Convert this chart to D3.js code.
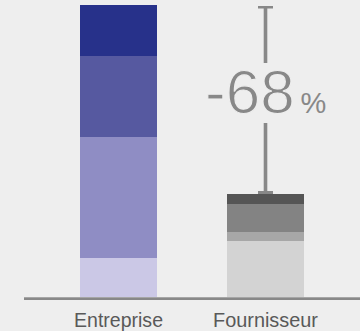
<!DOCTYPE html>
<html><head><meta charset="utf-8">
<script src="https://cdn.jsdelivr.net/npm/d3@7"></script>
<style>
html,body{margin:0;padding:0;background:#eeeeee;}
svg{display:block;}
text{font-family:"Liberation Sans",Arial,Helvetica,sans-serif;}
</style></head>
<body>
<script>
const categories = ["Entreprise", "Fournisseur"];
const entrepriseValues = [39, 121, 81, 51];
const fournisseurValues = [56, 9, 28, 10];
const entrepriseColors = ["#cbc8e6", "#8f8dc4", "#5659a0", "#27318a"];
const fournisseurColors = ["#d3d3d3", "#a7a7a7", "#838383", "#555555"];
const changeLabel = "-68";
const changeUnit = "%";

const W = 360, H = 331;
const svg = d3.select("body").append("svg").attr("width", W).attr("height", H);
svg.append("rect").attr("width", W).attr("height", H).attr("fill", "#eeeeee");

const x = d3.scaleBand().domain(categories).range([45, 339])
  .paddingInner(70/147).paddingOuter(35/147);
const total = d3.sum(entrepriseValues);
const y = d3.scaleLinear().domain([0, total]).range([297, 5]);

const series = [
  {cat: categories[0], values: entrepriseValues, colors: entrepriseColors},
  {cat: categories[1], values: fournisseurValues, colors: fournisseurColors}
];
series.forEach(s => {
  let acc = 0;
  const segs = s.values.map((v, i) => { const d = {y0: acc, y1: acc + v, c: s.colors[i]}; acc += v; return d; });
  svg.append("g").selectAll("rect").data(segs).join("rect")
    .attr("x", x(s.cat)).attr("width", x.bandwidth())
    .attr("y", d => y(d.y1)).attr("height", d => y(d.y0) - y(d.y1))
    .attr("fill", d => d.c);
});

// baseline
svg.append("rect").attr("x", 24).attr("y", 297.3).attr("width", W - 24).attr("height", 2.7).attr("fill", "#888888");

// category labels via axis
const axis = d3.axisBottom(x).tickSize(0).tickPadding(0);
const ag = svg.append("g").attr("transform", "translate(0,327)").call(axis);
ag.select(".domain").remove();
ag.selectAll("text").attr("font-size", 19.5).attr("fill", "#595959")
  .attr("font-family", "'Liberation Sans',Arial,sans-serif").attr("dy", "0")
  .attr("textLength", (d, i) => [89, 105][i]).attr("lengthAdjust", "spacingAndGlyphs");

// bracket
const bx = x(categories[1]) + x.bandwidth() / 2;
const yTop = y(total) + 1;
const yBot = y(d3.sum(fournisseurValues));
const col = "#888888";
const g = svg.append("g");
g.append("rect").attr("x", bx - 7.5).attr("y", yTop).attr("width", 15).attr("height", 2.5).attr("fill", col);
g.append("rect").attr("x", bx - 7.5).attr("y", yBot - 3).attr("width", 15).attr("height", 3).attr("fill", col);
g.append("rect").attr("x", bx - 1.8).attr("y", yTop).attr("width", 3.6).attr("height", 63 - yTop).attr("fill", col);
g.append("rect").attr("x", bx - 1.8).attr("y", 123).attr("width", 3.6).attr("height", yBot - 123).attr("fill", col);

const t = svg.append("text").attr("x", 205).attr("y", 113).attr("fill", col);
t.append("tspan").attr("font-size", 62).attr("stroke", "#eeeeee").attr("stroke-width", 1.2).text(changeLabel);
t.append("tspan").attr("font-size", 29).attr("dx", 6).text(changeUnit);
</script>
</body></html>
